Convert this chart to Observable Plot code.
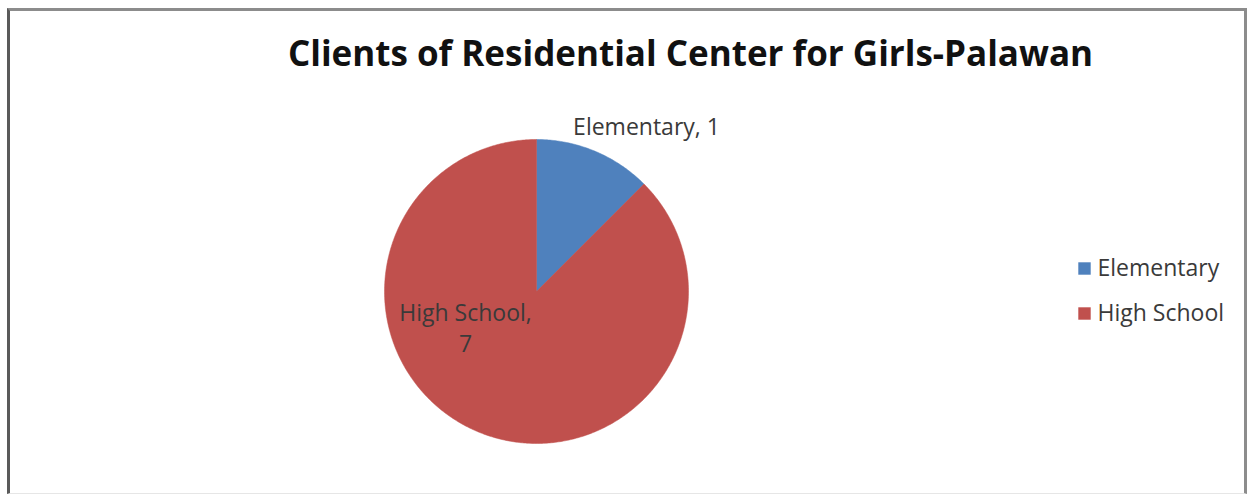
<!DOCTYPE html>
<html>
<head>
<meta charset="utf-8">
<script src="https://cdn.jsdelivr.net/npm/d3@7"></script>
<script src="https://cdn.jsdelivr.net/npm/@observablehq/plot@0.6"></script>
<style>
  html, body { margin: 0; padding: 0; background: #fff; }
  #wrap { position: relative; width: 1255px; height: 495px; overflow: hidden; }
  #frame { position: absolute; left: 7px; top: 8px; width: 1240px; height: 486px;
           border-left: 3px solid #5a5a5a; border-top: 3px solid #8c8c8c;
           border-right: 3px solid #8c8c8c; border-bottom: 1px solid #e6e6e6; box-sizing: border-box; pointer-events: none; }
  #chart { position: absolute; left: 0; top: 0; }
</style>
</head>
<body>
<div id="wrap"><div id="chart"></div><div id="frame"></div></div>
<script>
const title = "Clients of Residential Center for Girls-Palawan";
const categories = ["Elementary", "High School"];
const values = [1, 7];
const colors = ["#4f81bd", "#c0504d"];
const sliceLabels = [["Elementary, 1"], ["High School,", "7"]];

// layout constants
const W = 1255, H = 495;
const cx = 536, cy = 291, R = 152;

const data = categories.map((c, i) => ({category: c, value: values[i]}));
const arcs = d3.pie().value(d => d.value).sort(null)(data);

// polygon points in unit-circle coordinates (angle 0 = 12 o'clock, clockwise)
const pts = [];
arcs.forEach(a => {
  const n = Math.max(2, Math.ceil((a.endAngle - a.startAngle) / 0.01));
  pts.push({category: a.data.category, x: 0, y: 0});
  for (let k = 0; k <= n; k++) {
    const t = a.startAngle + (a.endAngle - a.startAngle) * k / n;
    pts.push({category: a.data.category, x: Math.sin(t), y: Math.cos(t)});
  }
  pts.push({category: a.data.category, x: 0, y: 0});
});

// label placement (pixels, frame top-left)
const labelPos = [{x: 646, y: 127}, {x: 465, y: 313}];
const labelMarks = [];
sliceLabels.forEach((lines, i) => {
  lines.forEach((t, j) => {
    labelMarks.push(Plot.text([t], {
      text: d => d, frameAnchor: "top-left",
      dx: labelPos[i].x, dy: labelPos[i].y + j * 31,
      fontSize: 23, fill: "#3a3a3a", textAnchor: "middle", lineAnchor: "middle"
    }));
  });
});

const legendMarks = [];
categories.forEach((c, i) => {
  const y = 268 + i * 45;
  legendMarks.push(Plot.dot([c], {frameAnchor: "top-left", dx: 1084, dy: y, symbol: "square", r: 7, fill: colors[i], stroke: "none"}));
  legendMarks.push(Plot.text([c], {text: d => d, frameAnchor: "top-left", dx: 1097, dy: y, fontSize: 23, fill: "#3a3a3a", textAnchor: "start", lineAnchor: "middle"}));
});

const chart = Plot.plot({
  width: W, height: H,
  margin: 0,
  style: {fontFamily: "'Open Sans', sans-serif", background: "transparent"},
  x: {domain: [-1, 1], range: [cx - R, cx + R], axis: null},
  y: {domain: [-1, 1], range: [cy + R, cy - R], axis: null},
  color: {domain: categories, range: colors},
  marks: [
    Plot.line(pts, {x: "x", y: "y", z: "category", fill: "category", stroke: "category", strokeWidth: 0.5, curve: "linear"}),
    ...labelMarks,
    ...legendMarks,
    Plot.text([title], {text: d => d, frameAnchor: "top-left", dx: 690, dy: 54, fontSize: 35, fontWeight: "bold", fill: "#111", textAnchor: "middle", lineAnchor: "middle"})
  ]
});
document.getElementById("chart").appendChild(chart);
</script>
</body>
</html>
